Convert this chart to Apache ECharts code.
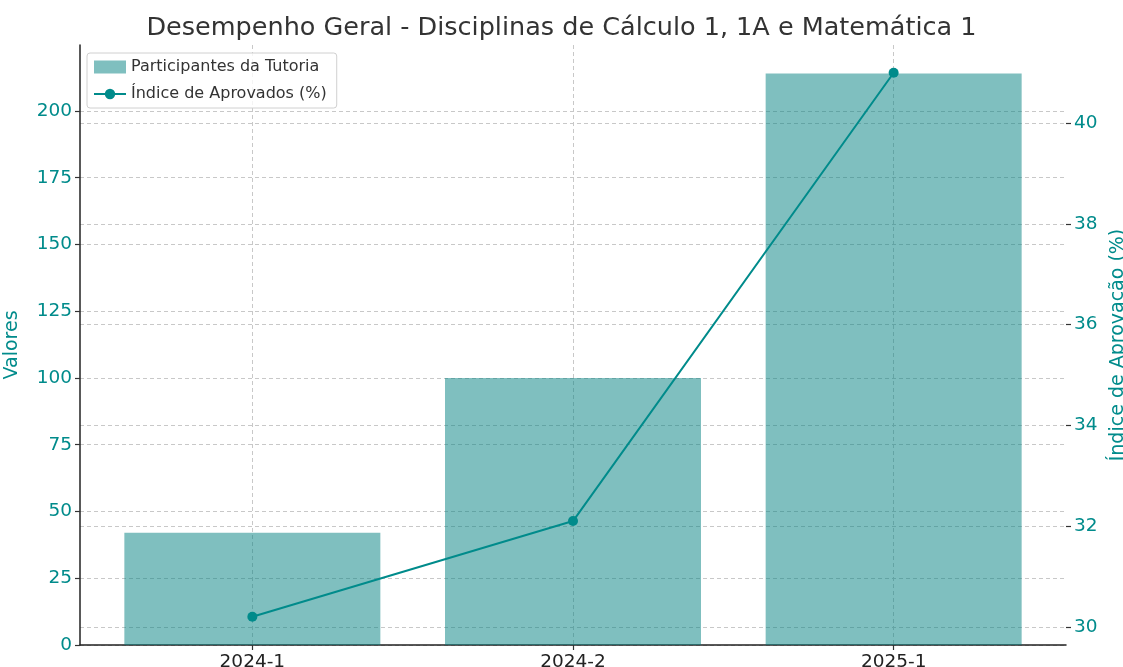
<!DOCTYPE html>
<html>
<head>
<meta charset="utf-8">
<script src="https://cdn.jsdelivr.net/npm/echarts@6/dist/echarts.min.js"></script>
<style>
  html, body { margin: 0; padding: 0; background: #fff; }
  #chart { width: 1123px; height: 667px; }
</style>
</head>
<body>
<div id="chart"></div>
<script>
// dados do grafico
const semestres = ['2024-1', '2024-2', '2025-1'];
const participantes = [42, 100, 214];
const indiceAprovados = [30.2, 32.1, 41.0];
const ticksValores = [0, 25, 50, 75, 100, 125, 150, 175, 200];
const ticksIndice = [30, 32, 34, 36, 38, 40];

const teal = '#008b8b';
const font = 'DejaVu Sans';
const grade = { color: '#c8c8c8', type: [4, 3] };
const marca = { color: '#333', width: 1.2 };

const chart = echarts.init(document.getElementById('chart'));

chart.setOption({
  backgroundColor: '#fff',
  textStyle: { fontFamily: font },
  title: {
    text: 'Desempenho Geral - Disciplinas de Cálculo 1, 1A e Matemática 1',
    left: 'center',
    top: 10,
    textStyle: { fontFamily: font, fontSize: 25.5, fontWeight: 'normal', color: '#333' }
  },
  legend: {
    orient: 'vertical',
    left: 87,
    top: 53,
    padding: [6, 10, 6, 6],
    itemGap: 11,
    itemWidth: 32,
    itemHeight: 13,
    borderColor: '#d0d0d0',
    borderWidth: 1,
    borderRadius: 3,
    backgroundColor: 'rgba(255,255,255,0.8)',
    textStyle: { fontFamily: font, fontSize: 16, color: '#333' },
    data: [
      { name: 'Participantes da Tutoria', icon: 'rect' },
      { name: 'Índice de Aprovados (%)' }
    ]
  },
  grid: { left: 80, right: 57, top: 45, bottom: 22, containLabel: false, outerBoundsMode: 'none' },
  xAxis: {
    type: 'value',
    min: -0.5375,
    max: 2.5375,
    axisLine: { show: true, onZero: false, lineStyle: { color: '#222', width: 1.5 } },
    axisTick: { show: true, length: 5, lineStyle: marca, customValues: semestres.map((s, i) => i) },
    axisLabel: {
      fontSize: 18.5, color: '#222', margin: 8,
      customValues: semestres.map((s, i) => i),
      formatter: v => semestres[Math.round(v)]
    },
    splitLine: { show: true, lineStyle: grade }
  },
  yAxis: [
    {
      type: 'value',
      min: 0,
      max: 224.7,
      name: 'Valores',
      nameLocation: 'middle',
      nameGap: 58,
      nameTextStyle: { fontFamily: font, fontSize: 19, color: teal },
      axisLine: { show: true, onZero: false, lineStyle: { color: '#222', width: 1.5 } },
      axisTick: { show: true, length: 5, lineStyle: marca, customValues: ticksValores },
      axisLabel: { fontSize: 18.5, color: teal, margin: 8, customValues: ticksValores },
      splitLine: { show: true, lineStyle: grade }
    },
    {
      type: 'value',
      position: 'right',
      min: 29.64,
      max: 41.55,
      name: 'Índice de Aprovação (%)',
      nameLocation: 'middle',
      nameGap: 37,
      nameRotate: 90,
      nameTextStyle: { fontFamily: font, fontSize: 19, color: teal },
      axisLine: { show: false, onZero: false },
      axisTick: { show: true, length: 5, lineStyle: marca, customValues: ticksIndice },
      axisLabel: { fontSize: 18.5, color: teal, margin: 8, customValues: ticksIndice },
      splitLine: { show: true, lineStyle: grade }
    }
  ],
  series: [
    {
      name: 'Participantes da Tutoria',
      type: 'bar',
      yAxisIndex: 0,
      barWidth: 256,
      itemStyle: { color: '#008080', opacity: 0.5 },
      data: participantes.map((v, i) => [i, v])
    },
    {
      name: 'Índice de Aprovados (%)',
      type: 'line',
      yAxisIndex: 1,
      symbol: 'circle',
      symbolSize: 10,
      lineStyle: { color: teal, width: 2 },
      itemStyle: { color: teal },
      data: indiceAprovados.map((v, i) => [i, v])
    }
  ]
});
</script>
</body>
</html>
